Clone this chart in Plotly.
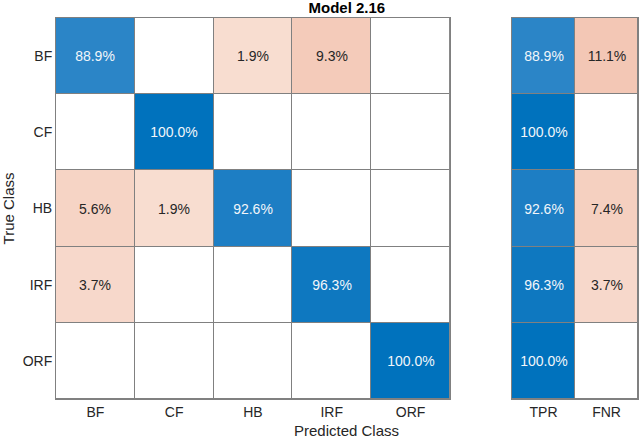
import plotly.graph_objects as go

classes = ["BF", "CF", "HB", "IRF", "ORF"]
rate_labels = ["TPR", "FNR"]
# rows = true class, columns = predicted class (percent)
row_BF = [88.9, 0, 1.9, 9.3, 0]
row_CF = [0, 100.0, 0, 0, 0]
row_HB = [5.6, 1.9, 92.6, 0, 0]
row_IRF = [3.7, 0, 0, 96.3, 0]
row_ORF = [0, 0, 0, 0, 100.0]
tpr = [88.9, 100.0, 92.6, 96.3, 100.0]
fnr = [11.1, 0, 7.4, 3.7, 0]

matrix = [row_BF, row_CF, row_HB, row_IRF, row_ORF]
rates = [[t, f] for t, f in zip(tpr, fnr)]

FONT = "Liberation Sans, Arial, Helvetica, sans-serif"
GRID = "#808080"
BLUE_SCALE = [[0, "#3a8bcb"], [1, "#0072bd"]]
PEACH_SCALE = [[0, "#f9e1d6"], [1, "#f2c5b2"]]


def split(m, blue_mask):
    blue, peach, blank = [], [], []
    blue_t, peach_t = [], []
    for i, row in enumerate(m):
        b, p, bt, pt, w = [], [], [], [], []
        for j, v in enumerate(row):
            w.append(0)
            if v and blue_mask(i, j):
                b.append(v); bt.append(f"{v:.1f}%"); p.append(None); pt.append("")
            elif v:
                p.append(v); pt.append(f"{v:.1f}%"); b.append(None); bt.append("")
            else:
                b.append(None); p.append(None); bt.append(""); pt.append("")
        blue.append(b); peach.append(p); blank.append(w)
        blue_t.append(bt); peach_t.append(pt)
    return blank, blue, blue_t, peach, peach_t


fig = go.Figure()


def add_panel(m, xs, xa, ya, mask):
    blank, blue, blue_t, peach, peach_t = split(m, mask)
    common = dict(x=xs, y=classes, xaxis=xa, yaxis=ya, xgap=1, ygap=1,
                  showscale=False, hoverinfo="skip")
    fig.add_trace(go.Heatmap(z=blank, colorscale=[[0, "white"], [1, "white"]],
                             zmin=0, zmax=1, **common))
    fig.add_trace(go.Heatmap(z=blue, colorscale=BLUE_SCALE, zmin=85, zmax=100,
                             text=blue_t, texttemplate="%{text}",
                             textfont=dict(color="#f2f6fa", size=14, family=FONT),
                             **common))
    fig.add_trace(go.Heatmap(z=peach, colorscale=PEACH_SCALE, zmin=0, zmax=12,
                             text=peach_t, texttemplate="%{text}",
                             textfont=dict(color="#262626", size=14, family=FONT),
                             **common))


add_panel(matrix, classes, "x", "y", lambda i, j: i == j)
add_panel(rates, rate_labels, "x2", "y2", lambda i, j: j == 0)

axis_common = dict(showgrid=False, zeroline=False, showline=True, mirror=True,
                   linecolor=GRID, linewidth=1, ticks="", type="category",
                   tickfont=dict(size=14, color="#262626", family=FONT))

fig.update_layout(
    width=640, height=438,
    margin=dict(l=0, r=0, t=0, b=0),
    paper_bgcolor="white", plot_bgcolor=GRID,
    font=dict(family=FONT, color="#262626"),
    title=dict(text="<b>Model 2.16</b>", x=0.542, xanchor="center",
               y=0.982, yanchor="middle",
               font=dict(size=15, color="#000000", family=FONT)),
    xaxis=dict(domain=[0.0875, 0.703], anchor="y", **axis_common),
    yaxis=dict(domain=[0.089, 0.959], anchor="x", autorange="reversed",
               title=dict(text="True Class", standoff=11,
                          font=dict(size=15, color="#262626")),
               **axis_common),
    xaxis2=dict(domain=[0.8, 0.997], anchor="y2", **axis_common),
    yaxis2=dict(domain=[0.089, 0.959], anchor="x2", autorange="reversed",
                showticklabels=False, **axis_common),
    annotations=[dict(text="Predicted Class", xref="paper", yref="paper",
                      x=0.542, y=0.018, xanchor="center", yanchor="middle",
                      showarrow=False,
                      font=dict(size=15, color="#262626", family=FONT))],
)

fig.write_html("out.html", config={"displayModeBar": False},
               post_script="document.body.style.margin='0';document.body.style.overflow='hidden';")
